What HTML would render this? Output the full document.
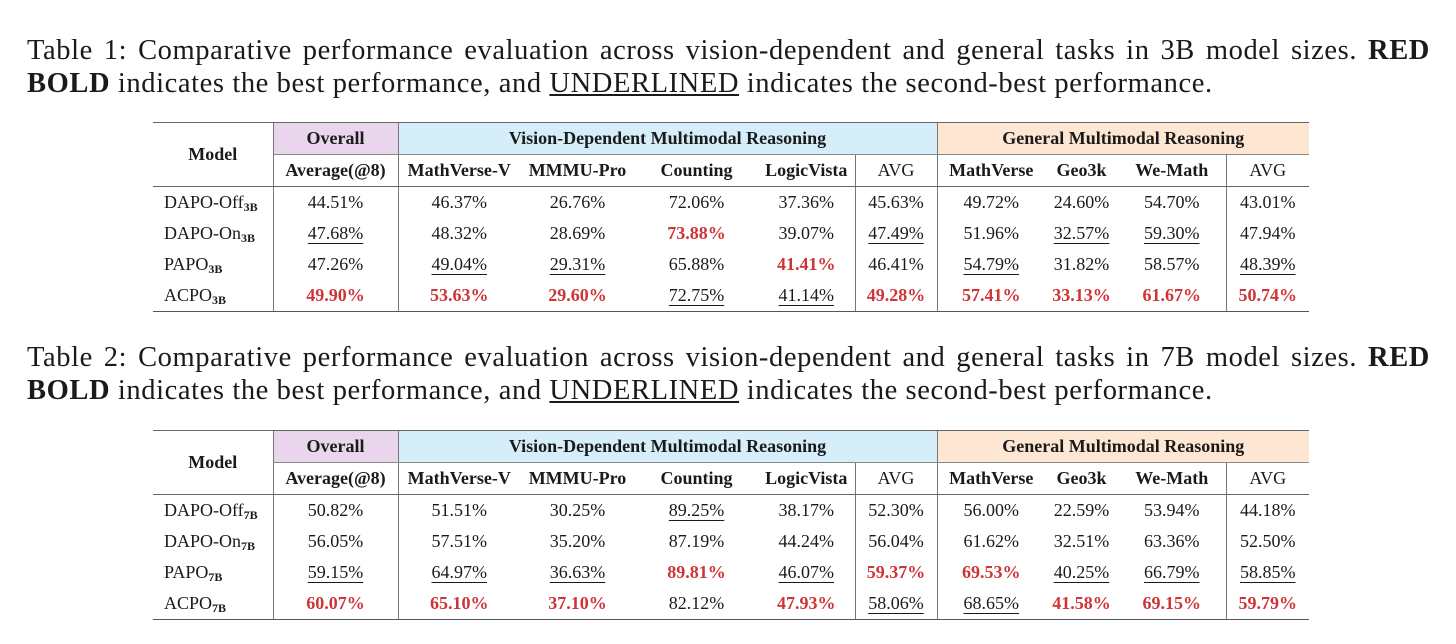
<!DOCTYPE html>
<html><head><meta charset="utf-8"><style>
body{margin:0;width:1456px;height:644px;background:#fff;position:relative;font-family:"Liberation Serif",serif;color:#1a1a1a;overflow:hidden}
.cap{position:absolute;left:27px;width:1403px;font-size:28.5px;letter-spacing:0.6px;line-height:33px}
.cap .l1{text-align:justify;text-align-last:justify}
table{position:absolute;left:153px;border-collapse:collapse;table-layout:fixed;font-size:18px}
td{height:31px;padding:0;text-align:center;white-space:nowrap}
.h{font-weight:bold}
.top td{border-top:1.5px solid #666}
.r2 td{border-bottom:1.5px solid #666}
.last td{border-bottom:1.5px solid #555}
.vl{border-left:1px solid #777}
.u{text-decoration:underline;text-underline-offset:4px;text-decoration-thickness:1px}
.b{color:#cf3436;font-weight:bold}
.ov{background:#ead6ec}.vi{background:#d5eef9}.ge{background:#fde6d2}
.m{text-align:left;padding-left:11px}
sub{font-size:12px;font-weight:bold;vertical-align:-3px;line-height:0}
.sep td.g{border-bottom:1px solid #888}
</style></head><body>
<div class="cap" style="top:34px"><div class="l1">Table 1: Comparative performance evaluation across vision-dependent and general tasks in 3B model sizes. <b>RED</b></div><div><b>BOLD</b> indicates the best performance, and <u>UNDERLINED</u> indicates the second-best performance.</div></div>
<div class="cap" style="top:341px"><div class="l1">Table 2: Comparative performance evaluation across vision-dependent and general tasks in 7B model sizes. <b>RED</b></div><div><b>BOLD</b> indicates the best performance, and <u>UNDERLINED</u> indicates the second-best performance.</div></div>

<table style="top:122px">
<colgroup><col style="width:120px"><col style="width:125px"><col style="width:122px"><col style="width:115px"><col style="width:123px"><col style="width:97px"><col style="width:82px"><col style="width:108px"><col style="width:73px"><col style="width:108px"><col style="width:83px"></colgroup>
<tr class="top sep"><td rowspan="2" class="h" style="border-bottom:1.5px solid #666">Model</td><td class="h ov vl g">Overall</td><td colspan="5" class="h vi vl g">Vision-Dependent Multimodal Reasoning</td><td colspan="4" class="h ge vl g">General Multimodal Reasoning</td></tr>
<tr class="r2"><td class="h vl">Average(@8)</td><td class="h vl">MathVerse-V</td><td class="h">MMMU-Pro</td><td class="h">Counting</td><td class="h">LogicVista</td><td class="vl">AVG</td><td class="h vl">MathVerse</td><td class="h">Geo3k</td><td class="h">We-Math</td><td class="vl">AVG</td></tr>
<tr><td class="m">DAPO-Off<sub>3B</sub></td><td class="vl">44.51%</td><td class="vl">46.37%</td><td>26.76%</td><td>72.06%</td><td>37.36%</td><td class="vl">45.63%</td><td class="vl">49.72%</td><td>24.60%</td><td>54.70%</td><td class="vl">43.01%</td></tr>
<tr><td class="m">DAPO-On<sub>3B</sub></td><td class="vl"><span class="u">47.68%</span></td><td class="vl">48.32%</td><td>28.69%</td><td class="b">73.88%</td><td>39.07%</td><td class="vl"><span class="u">47.49%</span></td><td class="vl">51.96%</td><td><span class="u">32.57%</span></td><td><span class="u">59.30%</span></td><td class="vl">47.94%</td></tr>
<tr><td class="m">PAPO<sub>3B</sub></td><td class="vl">47.26%</td><td class="vl"><span class="u">49.04%</span></td><td><span class="u">29.31%</span></td><td>65.88%</td><td class="b">41.41%</td><td class="vl">46.41%</td><td class="vl"><span class="u">54.79%</span></td><td>31.82%</td><td>58.57%</td><td class="vl"><span class="u">48.39%</span></td></tr>
<tr class="last"><td class="m">ACPO<sub>3B</sub></td><td class="vl b">49.90%</td><td class="vl b">53.63%</td><td class="b">29.60%</td><td><span class="u">72.75%</span></td><td><span class="u">41.14%</span></td><td class="vl b">49.28%</td><td class="vl b">57.41%</td><td class="b">33.13%</td><td class="b">61.67%</td><td class="vl b">50.74%</td></tr>
</table>

<table style="top:430px">
<colgroup><col style="width:120px"><col style="width:125px"><col style="width:122px"><col style="width:115px"><col style="width:123px"><col style="width:97px"><col style="width:82px"><col style="width:108px"><col style="width:73px"><col style="width:108px"><col style="width:83px"></colgroup>
<tr class="top sep"><td rowspan="2" class="h" style="border-bottom:1.5px solid #666">Model</td><td class="h ov vl g">Overall</td><td colspan="5" class="h vi vl g">Vision-Dependent Multimodal Reasoning</td><td colspan="4" class="h ge vl g">General Multimodal Reasoning</td></tr>
<tr class="r2"><td class="h vl">Average(@8)</td><td class="h vl">MathVerse-V</td><td class="h">MMMU-Pro</td><td class="h">Counting</td><td class="h">LogicVista</td><td class="vl">AVG</td><td class="h vl">MathVerse</td><td class="h">Geo3k</td><td class="h">We-Math</td><td class="vl">AVG</td></tr>
<tr><td class="m">DAPO-Off<sub>7B</sub></td><td class="vl">50.82%</td><td class="vl">51.51%</td><td>30.25%</td><td><span class="u">89.25%</span></td><td>38.17%</td><td class="vl">52.30%</td><td class="vl">56.00%</td><td>22.59%</td><td>53.94%</td><td class="vl">44.18%</td></tr>
<tr><td class="m">DAPO-On<sub>7B</sub></td><td class="vl">56.05%</td><td class="vl">57.51%</td><td>35.20%</td><td>87.19%</td><td>44.24%</td><td class="vl">56.04%</td><td class="vl">61.62%</td><td>32.51%</td><td>63.36%</td><td class="vl">52.50%</td></tr>
<tr><td class="m">PAPO<sub>7B</sub></td><td class="vl"><span class="u">59.15%</span></td><td class="vl"><span class="u">64.97%</span></td><td><span class="u">36.63%</span></td><td class="b">89.81%</td><td><span class="u">46.07%</span></td><td class="vl b">59.37%</td><td class="vl b">69.53%</td><td><span class="u">40.25%</span></td><td><span class="u">66.79%</span></td><td class="vl"><span class="u">58.85%</span></td></tr>
<tr class="last"><td class="m">ACPO<sub>7B</sub></td><td class="vl b">60.07%</td><td class="vl b">65.10%</td><td class="b">37.10%</td><td>82.12%</td><td class="b">47.93%</td><td class="vl"><span class="u">58.06%</span></td><td class="vl"><span class="u">68.65%</span></td><td class="b">41.58%</td><td class="b">69.15%</td><td class="vl b">59.79%</td></tr>
</table>
</body></html>
